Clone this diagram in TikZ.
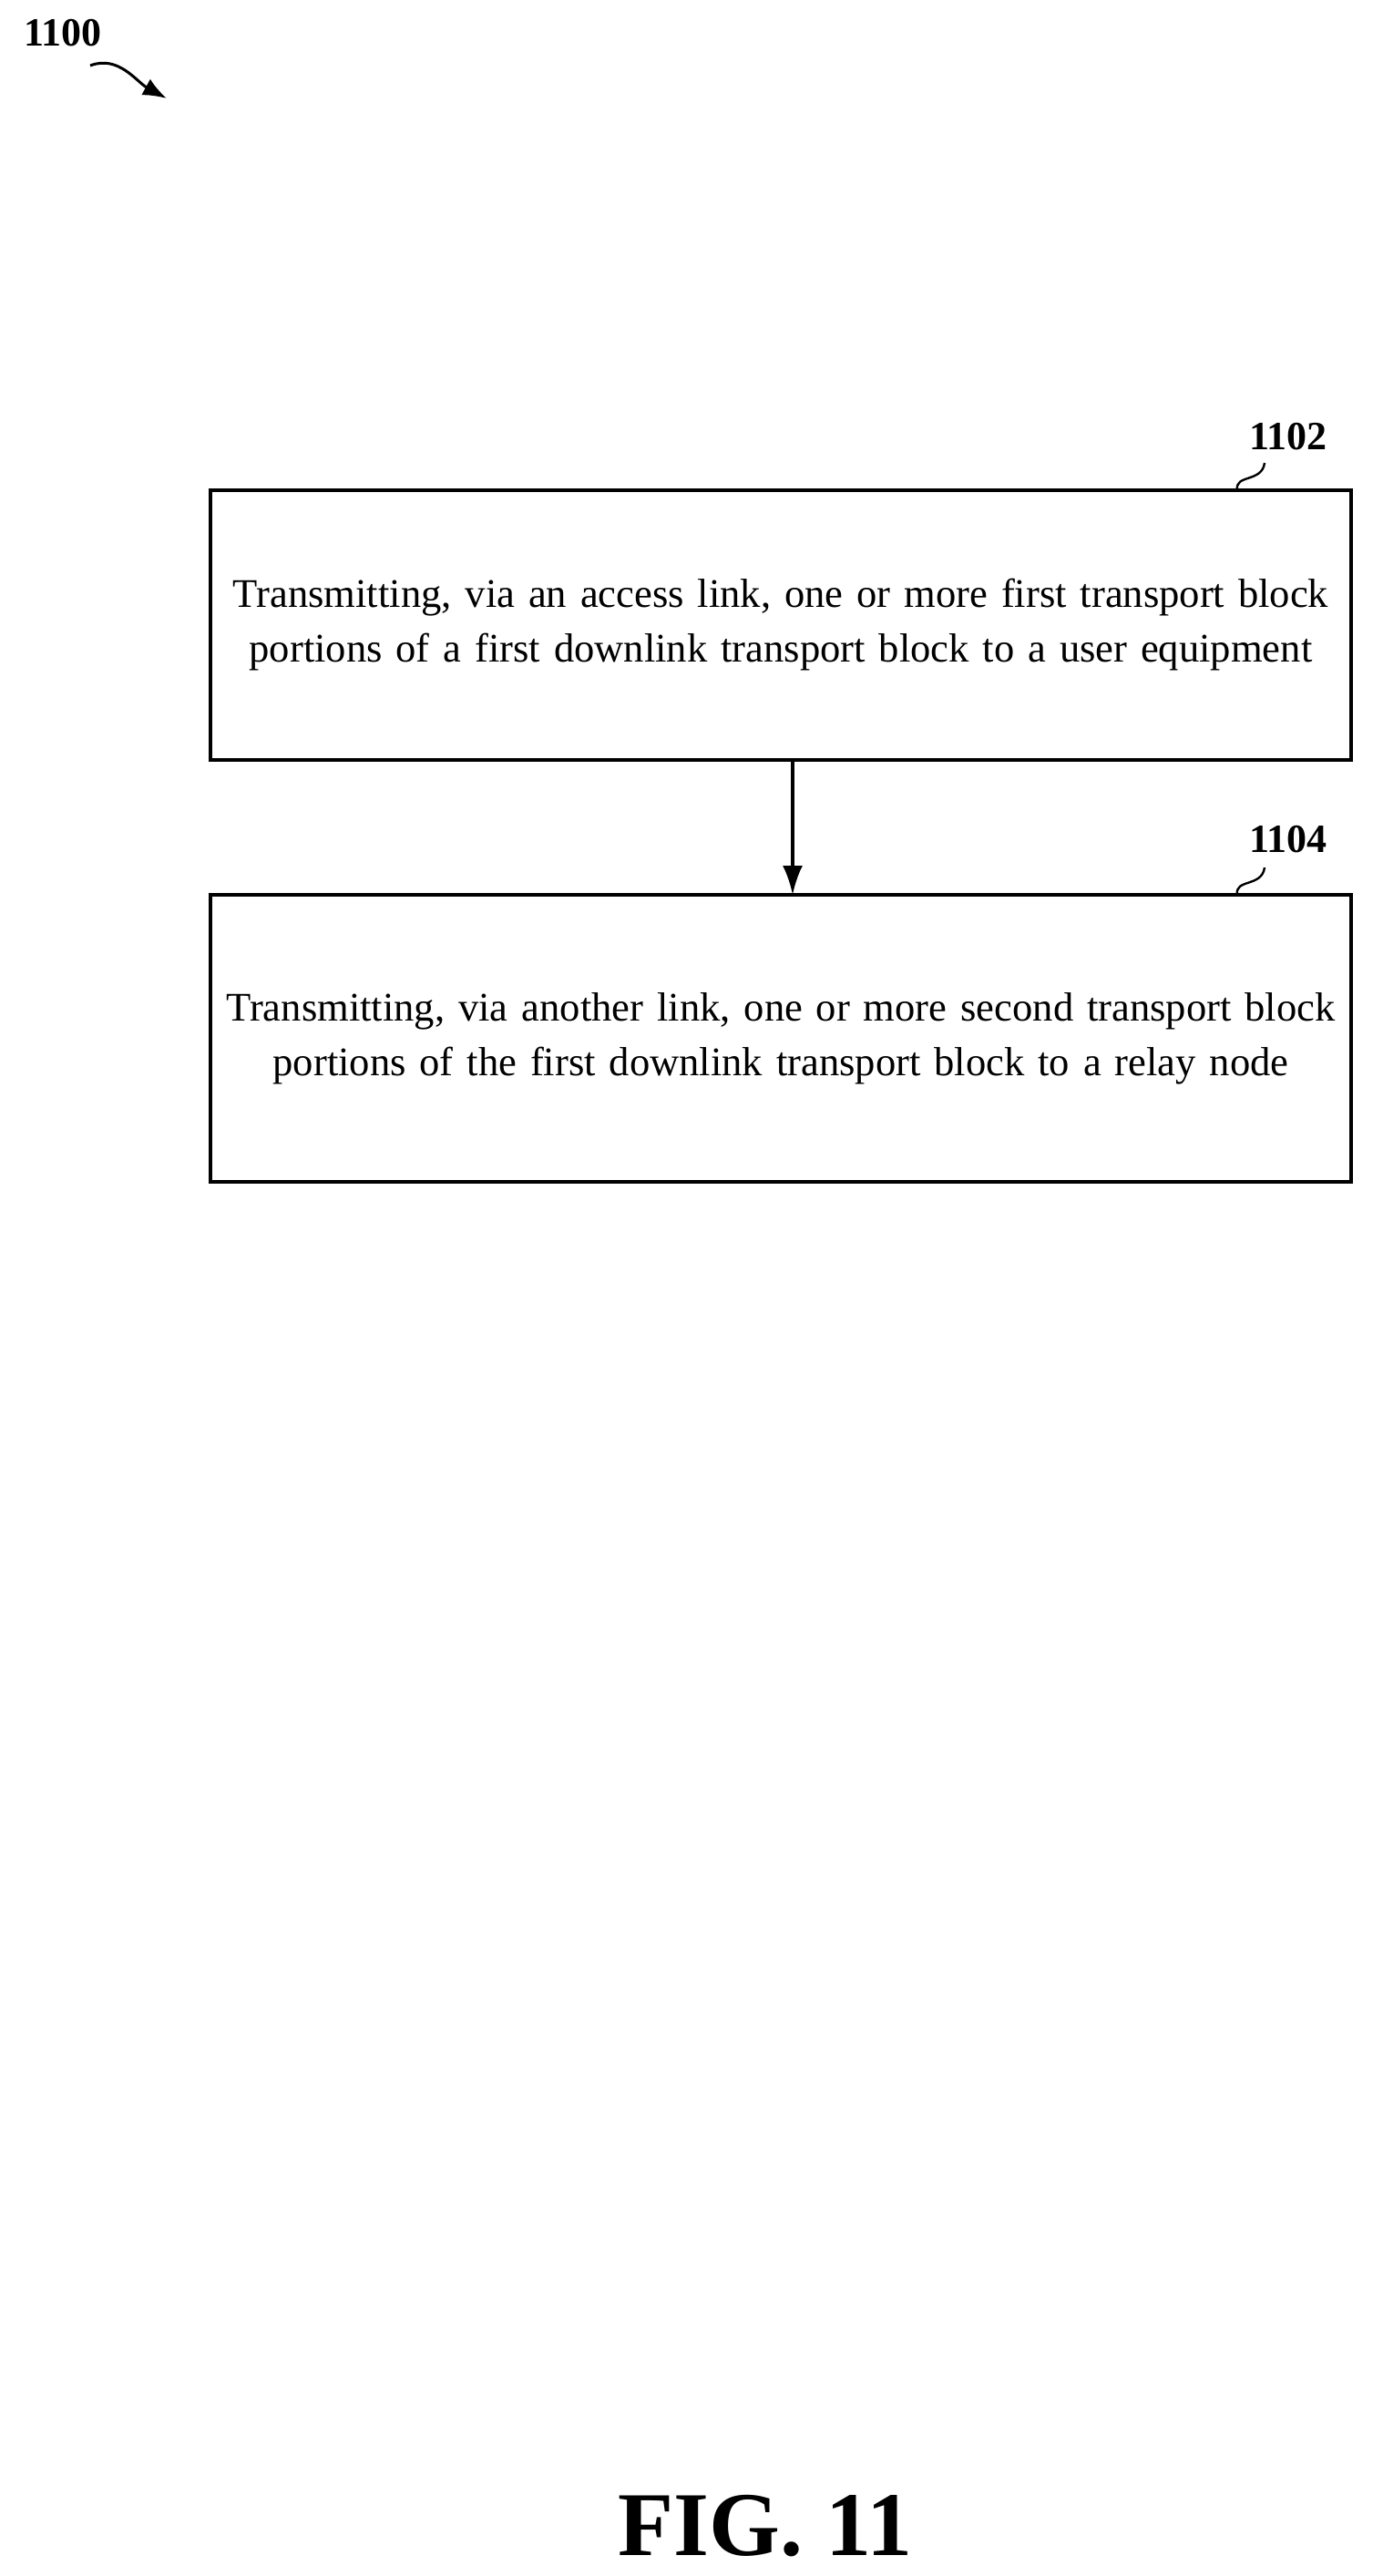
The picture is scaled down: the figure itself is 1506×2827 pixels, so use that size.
\documentclass[tikz,border=0pt]{standalone}
\usepackage{fontspec}
\setmainfont{Liberation Serif}
\usetikzlibrary{arrows.meta}
\hyphenpenalty=10000
\exhyphenpenalty=10000
\begin{document}
\begin{tikzpicture}[x=0.5pt,y=-0.5pt,
  boxst/.style={draw,line width=1.6pt,minimum width=626pt,text width=618pt,align=center,font=\fontsize{22.3}{30}\selectfont,inner sep=0pt},
  lab/.style={font=\fontsize{22}{26}\selectfont\bfseries}]
\useasboundingbox (0,0) rectangle (1506,2827);
\node[boxst,minimum height=148pt] (b1) at (857,686) {Transmitting, via an access link, one or more first transport block portions of a first downlink transport block to a user equipment};
\node[boxst,minimum height=157.5pt] (b2) at (857,1139.5) {Transmitting, via another link, one or more second transport block portions of the first downlink transport block to a relay node};
\draw[line width=1.8pt,-{Latex[length=16pt,width=11pt]}] (870,834) -- (870,982);
\node[lab] (l1) at (1414,479) {1102};
\node[lab] (l2) at (1414,921) {1104};
\node[lab] (l0) at (69,36) {1100};
\node[font=\fontsize{50}{56}\selectfont\bfseries] (fig) at (840,2772) {FIG. 11};
\draw[line width=1.2pt] (1358,538) .. controls (1355,520) and (1385,530) .. (1388,508);
\draw[line width=1.2pt] (1358,982) .. controls (1355,964) and (1385,974) .. (1388,952);
\draw[line width=1.5pt,-{Latex[length=13pt,width=10pt]}] (99,72) .. controls (130,60) and (150,90) .. (183,108);
\end{tikzpicture}
\end{document}
